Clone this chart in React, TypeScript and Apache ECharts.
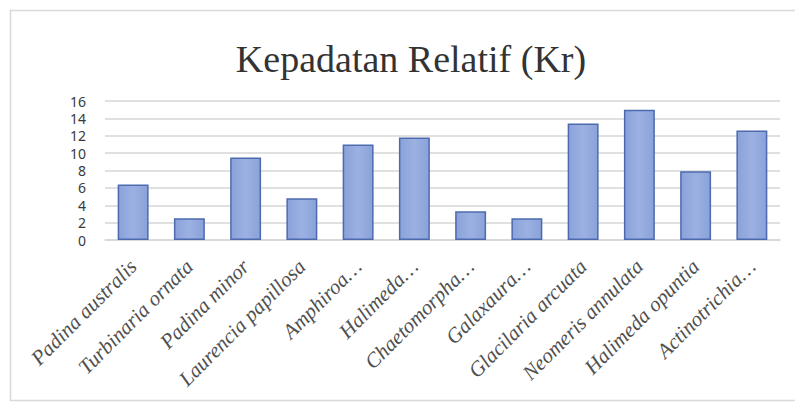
import React, { useEffect, useRef } from "react";
import * as echarts from "echarts";

// Relative density (Kr) per species
const species = [
  "Padina australis",
  "Turbinaria ornata",
  "Padina minor",
  "Laurencia papillosa",
  "Amphiroa…",
  "Halimeda…",
  "Chaetomorpha…",
  "Galaxaura…",
  "Glacilaria arcuata",
  "Neomeris annulata",
  "Halimeda opuntia",
  "Actinotrichia…",
];
const kr = [6.4, 2.5, 9.5, 4.8, 11.0, 11.8, 3.3, 2.5, 13.4, 15.0, 7.9, 12.6];
const yTicks = { min: 0, max: 16, interval: 2 };
const titleText = "Kepadatan Relatif (Kr)";

export default function App() {
  const ref = useRef<HTMLDivElement>(null);

  useEffect(() => {
    if (!ref.current) return;
    const chart = echarts.init(ref.current, null, { renderer: "svg" });
    chart.setOption({
      animation: false,
      backgroundColor: "#ffffff",
      graphic: [
        {
          type: "rect",
          shape: { x: 10.5, y: 10.5, width: 800, height: 390 },
          style: { fill: "none", stroke: "#d9d9d9", lineWidth: 1.5 },
          silent: true,
          z: -1,
        },
        {
          type: "text",
          x: 411,
          y: 59,
          style: {
            text: titleText,
            fill: "#333333",
            font: '38px "Liberation Serif", "DejaVu Serif", serif',
            textAlign: "center",
            textVerticalAlign: "middle",
          },
        },
      ],
      grid: { left: 105, right: 15, top: 101, bottom: 163, containLabel: false },
      xAxis: {
        type: "category",
        data: species,
        axisLine: { show: true, lineStyle: { color: "#d6d6d6", width: 1.5 } },
        axisTick: { show: false },
        axisLabel: {
          interval: 0,
          rotate: 45,
          margin: 23,
          color: "#505050",
          fontFamily: '"Liberation Serif", serif',
          fontStyle: "italic",
          fontSize: 21,
        },
      },
      yAxis: {
        type: "value",
        min: yTicks.min,
        max: yTicks.max,
        interval: yTicks.interval,
        axisLine: { show: false },
        axisTick: { show: false },
        splitLine: { lineStyle: { color: "#d6d6d6", width: 1.5 } },
        axisLabel: {
          margin: 19,
          color: "#3a3a3a",
          fontFamily: '"Noto Sans", "Liberation Sans", sans-serif',
          fontSize: 14,
        },
      },
      series: [
        {
          type: "bar",
          data: kr,
          barWidth: "55%",
          itemStyle: {
            color: new echarts.graphic.LinearGradient(0, 0, 1, 0, [
              { offset: 0, color: "#8aa2da" },
              { offset: 0.5, color: "#9cb1e2" },
              { offset: 1, color: "#8aa2da" },
            ]),
            borderColor: "#4d6aae",
            borderWidth: 1.5,
          },
        },
      ],
    });
    return () => chart.dispose();
  }, []);

  return (
    <div
      ref={ref}
      style={{ position: "absolute", left: 0, top: 0, width: 795, height: 403 }}
    />
  );
}
